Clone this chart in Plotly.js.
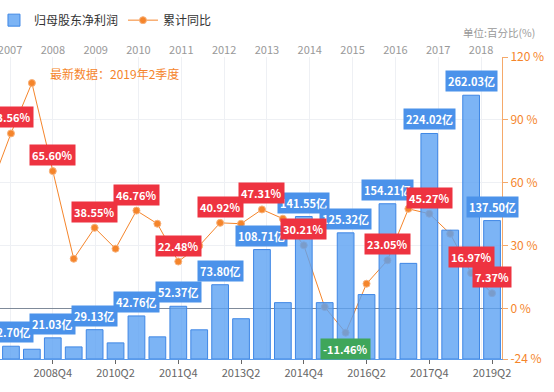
<!DOCTYPE html>
<html>
<head>
<meta charset="utf-8">
<script src="https://cdn.plot.ly/plotly-3.0.1.min.js"></script>
<style>html,body{margin:0;padding:0;background:#fff;}#chart{width:554px;height:392px;}</style>
</head>
<body>
<div id="chart"></div>
<script>
// Semi-annual reporting periods
const quarters = ['2007Q2','2007Q4','2008Q2','2008Q4','2009Q2','2009Q4','2010Q2','2010Q4','2011Q2','2011Q4','2012Q2','2012Q4','2013Q2','2013Q4','2014Q2','2014Q4','2015Q2','2015Q4','2016Q2','2016Q4','2017Q2','2017Q4','2018Q2','2018Q4','2019Q2'];
// 归母股东净利润 (亿)
const profit = [8, 12.70, 9.7, 21.03, 12, 29.13, 16, 42.76, 22, 52.37, 29, 73.80, 40, 108.71, 56, 141.55, 56, 125.32, 64, 154.21, 95, 224.02, 128, 262.03, 137.50];
// 累计同比 (%)
const yoy = [57, 83.56, 107.6, 65.60, 23.8, 38.55, 28.6, 46.76, 40.5, 22.48, 30.0, 40.92, 40.5, 47.31, 42.9, 30.21, 0.8, -11.46, 11.9, 23.05, 47.6, 45.27, 35.7, 16.97, 7.37];
// Top axis years
const years = [2007, 2008, 2009, 2010, 2011, 2012, 2013, 2014, 2015, 2016, 2017, 2018];
// Bottom tick labels
const bottomTicks = ['2007Q2','2008Q4','2010Q2','2011Q4','2013Q2','2014Q4','2016Q2','2017Q4','2019Q2'];
const rightTicks = [-24, 0, 30, 60, 90, 120];

const FONT = 'Noto Sans CJK SC, Microsoft YaHei, sans-serif';
const ORANGE = '#f5852b';

const barTrace = {
  type: 'bar', name: '归母股东净利润',
  x: quarters, y: profit, xaxis: 'x', yaxis: 'y2',
  marker: {color: 'rgba(91,161,243,0.8)', line: {color: '#3f87e5', width: 1}},
  hoverinfo: 'skip'
};
const lineTrace = {
  type: 'scatter', mode: 'lines+markers', name: '累计同比',
  x: quarters, y: yoy, xaxis: 'x', yaxis: 'y',
  line: {color: ORANGE, width: 1},
  marker: {size: 7, color: ORANGE, line: {color: '#f8b27c', width: 1}},
  hoverinfo: 'skip'
};
// empty carrier trace so the top year axis is drawn
const yearAxisTrace = {
  type: 'scatter', mode: 'markers', x: [], y: [], xaxis: 'x2', yaxis: 'y',
  showlegend: false, hoverinfo: 'skip'
};

const annotations = [];
const labelled = quarters.map((q, i) => q.endsWith('Q4') || i === quarters.length - 1);
quarters.forEach((q, i) => {
  if (!labelled[i]) return;
  annotations.push({
    x: q, y: profit[i], xref: 'x', yref: 'y2', yshift: 14, showarrow: false,
    text: '<b>' + profit[i].toFixed(2) + '亿</b>',
    font: {family: FONT, size: 11, color: '#fff'},
    bgcolor: '#4b92ea', borderpad: 2
  });
});
quarters.forEach((q, i) => {
  if (!labelled[i]) return;
  const neg = yoy[i] < 0;
  annotations.push({
    x: q, y: yoy[i], xref: 'x', yref: 'y', yshift: neg ? -16 : 16, showarrow: false,
    text: '<b>' + yoy[i].toFixed(2) + '%</b>',
    font: {family: FONT, size: 11, color: '#fff'},
    bgcolor: neg ? '#3fa65a' : '#ee3340', borderpad: 2
  });
});
annotations.push({
  xref: 'paper', yref: 'paper', x: 0.096, y: 0.947, xanchor: 'left', yanchor: 'middle',
  text: '最新数据：2019年2季度', showarrow: false,
  font: {family: FONT, size: 12, color: ORANGE}
});
annotations.push({
  xref: 'paper', yref: 'paper', x: 1.068, y: 1.082, xanchor: 'right', yanchor: 'middle',
  text: '单位:百分比(%)', showarrow: false, borderpad: 0,
  font: {family: FONT, size: 10.5, color: '#999'}
});

const layout = {
  width: 554, height: 392,
  margin: {l: 0, r: 52, t: 57, b: 33, pad: 0, autoexpand: false},
  paper_bgcolor: '#fff', plot_bgcolor: '#fff',
  font: {family: FONT, color: '#666'},
  showlegend: true,
  legend: {orientation: 'h', x: -0.012, y: 1.122, xanchor: 'left', yanchor: 'middle',
           font: {family: FONT, size: 12, color: '#333'}, bgcolor: 'rgba(0,0,0,0)'},
  bargap: 0.2,
  xaxis: {
    type: 'category', range: [0.476, 24.476], automargin: false,
    tickmode: 'array', tickvals: bottomTicks, ticktext: bottomTicks,
    ticks: 'outside', ticklen: 4, tickcolor: '#666',
    showline: true, linecolor: '#5b9bea', linewidth: 1,
    showgrid: false, tickfont: {family: FONT, size: 11, color: '#666'}
  },
  xaxis2: {
    overlaying: 'x', side: 'top', anchor: 'y', type: 'linear', automargin: false,
    ticklabeloverflow: 'allow',
    range: [2006.766, 2018.49], tickmode: 'array', tickvals: years, ticktext: years.map(String),
    showgrid: true, gridcolor: '#eef0f4', ticks: '', showline: false, zeroline: false,
    tickfont: {family: FONT, size: 11, color: '#999'}
  },
  yaxis: {
    side: 'right', range: [-24, 120], tickmode: 'array', tickvals: rightTicks, automargin: false,
    ticktext: rightTicks.map(v => v + ' %'), ticks: 'outside', ticklen: 5, tickcolor: '#f5a96a',
    showline: true, linecolor: '#f5a96a', linewidth: 1,
    gridcolor: '#eef0f4', zeroline: true, zerolinecolor: '#7f8a99', zerolinewidth: 1,
    tickfont: {family: FONT, size: 12, color: ORANGE}
  },
  yaxis2: {overlaying: 'y', side: 'left', range: [0, 300], visible: false, showgrid: false, zeroline: false},
  annotations: annotations
};

Plotly.newPlot('chart', [barTrace, lineTrace, yearAxisTrace], layout, {displayModeBar: false, staticPlot: true});
</script>
</body>
</html>
